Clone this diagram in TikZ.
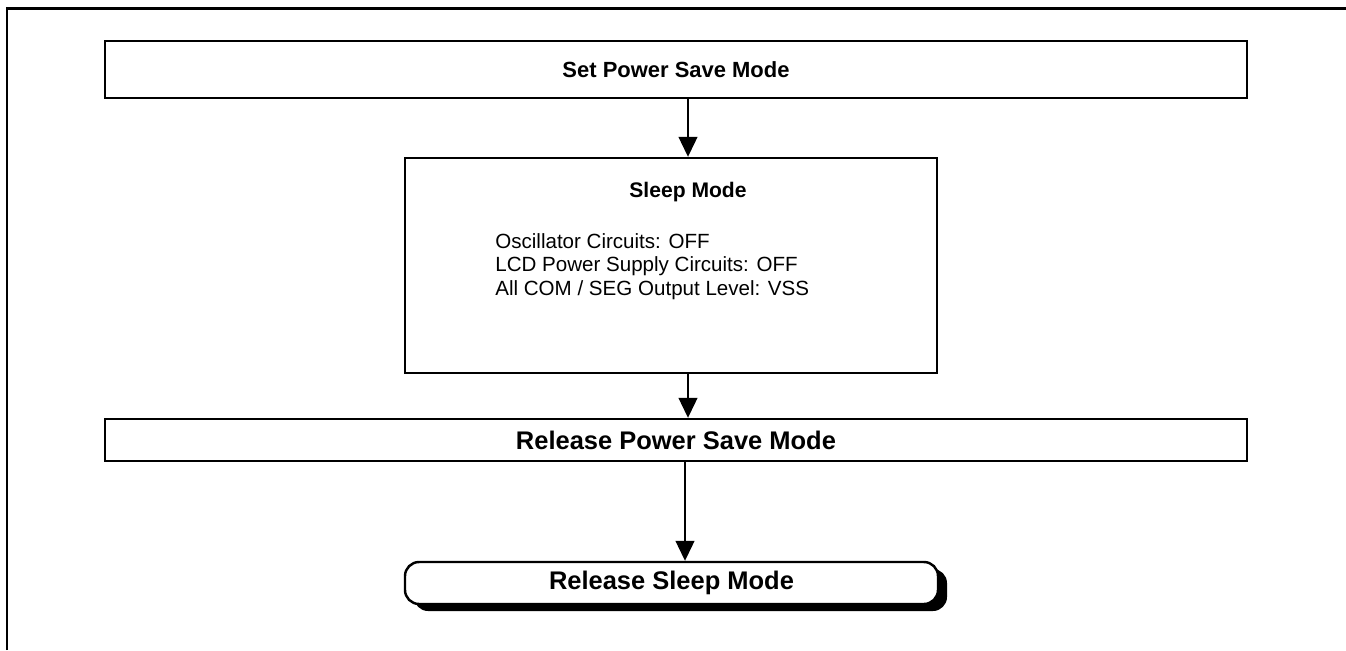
\documentclass[tikz,border=0pt]{standalone}
\usepackage{fontspec}
\setmainfont{Liberation Sans}
\usetikzlibrary{arrows.meta,shadows}

\tikzset{
    modebox/.style={draw=black, line width=1.4pt, fill=white, inner sep=0pt,
      font=\fontsize{12.5}{15}\selectfont\bfseries},
    flow/.style={line width=0.7pt, -{Triangle[width=0.38cm,length=0.4cm]}},
    itemtext/.style={font=\fontsize{11.7}{14}\selectfont, align=left, inner sep=0pt}
  }

\begin{document}
\begin{tikzpicture}[x=0.02cm, y=-0.02cm]
    \useasboundingbox (0,0) rectangle (1346,650);
    % outer frame
    \draw[line width=1.4pt] (7,650) -- (7,8.5) -- (1346,8.5);

    \node[modebox, minimum width=1142*0.02cm, minimum height=57*0.02cm] (setpsm) at (676,69.5) {Set Power Save Mode};

    \node[modebox, minimum width=532*0.02cm, minimum height=215*0.02cm] (sleep) at (671,265.5) {};
    \node[modebox, draw=none, fill=none, font=\fontsize{12}{14}\selectfont\bfseries] (sleeptitle) at (688,192) {Sleep Mode};
    \node[itemtext, anchor=north west] (sleeplist) at (495,233) {Oscillator Circuits: OFF\\[-0.5pt]
      LCD Power Supply Circuits: OFF\\[-0.5pt]
      All COM / SEG Output Level: VSS};

    \node[modebox, minimum width=1142*0.02cm, minimum height=42*0.02cm,
      font=\fontsize{14.5}{17}\selectfont\bfseries] (relpsm) at (676,440) {Release Power Save Mode};

    \node[modebox, rounded corners=8pt, minimum width=533*0.02cm, minimum height=42*0.02cm,
      font=\fontsize{14.5}{17}\selectfont\bfseries,
      drop shadow={shadow xshift=0.18cm, shadow yshift=-0.14cm, fill=black, opacity=1}] (relsleep) at (671.5,583) {Release Sleep Mode};

    \draw[flow] (setpsm.south -| 688,0) -- (sleep.north -| 688,0);
    \draw[flow] (sleep.south -| 688,0) -- (relpsm.north -| 688,0);
    \draw[flow] (relpsm.south -| 685,0) -- (relsleep.north -| 685,0);
\end{tikzpicture}
\end{document}
